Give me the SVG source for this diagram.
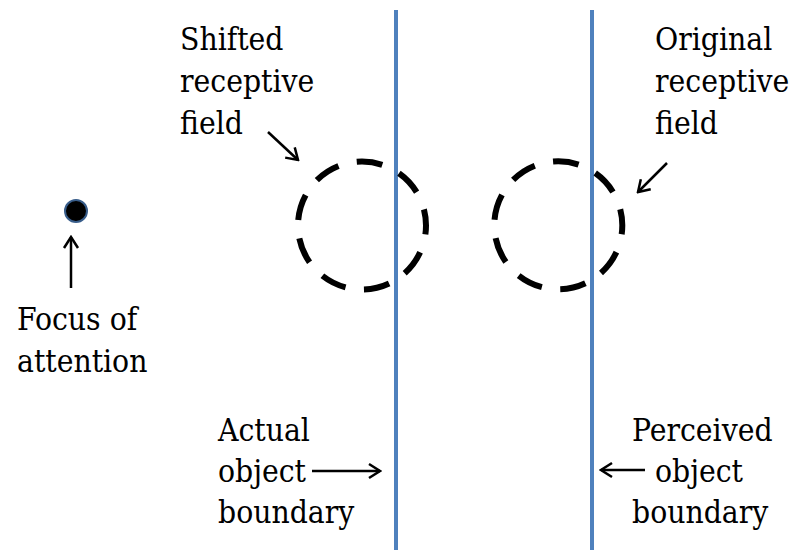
<svg xmlns="http://www.w3.org/2000/svg" width="801" height="550" viewBox="0 0 801 550">
<style>
.t{font-family:"DejaVu Serif Condensed","DejaVu Serif",serif;font-stretch:condensed;font-size:31.5px;fill:#000}
.b{stroke:#4f81bd;stroke-width:4;fill:none}
.rf{fill:none;stroke:#000;stroke-width:6;stroke-dasharray:26 18.68;stroke-dashoffset:17}
.ar{stroke:#000;stroke-width:2.5;fill:none;marker-end:url(#ah)}
</style>
<defs>
<marker id="ah" markerUnits="userSpaceOnUse" viewBox="-14 -9 16 18" markerWidth="16" markerHeight="18" refX="0" refY="0" orient="auto">
<path d="M-11,-7 L0,0 L-11,7" fill="none" stroke="#000" stroke-width="2.5"/>
</marker>
</defs>
<g id="actual-boundary"><line class="b" x1="396" y1="10" x2="396" y2="550"/></g>
<g id="perceived-boundary"><line class="b" x1="592" y1="10" x2="592" y2="550"/></g>
<g id="shifted-field"><circle class="rf" cx="362" cy="225.5" r="64"/></g>
<g id="original-field"><circle class="rf" cx="558.3" cy="225.3" r="64"/></g>
<g id="focus-dot"><circle cx="76" cy="211" r="11" fill="#000" stroke="#385d8a" stroke-width="2"/></g>
<g id="connectors">
<line class="ar" x1="71" y1="288" x2="71" y2="237"/>
<line class="ar" x1="268" y1="132" x2="298" y2="160"/>
<line class="ar" x1="667" y1="163" x2="638" y2="192"/>
<line class="ar" x1="312" y1="471" x2="380" y2="471"/>
<line class="ar" x1="645" y1="470" x2="601" y2="470"/>
</g>
<g id="label-focus"><text class="t" x="17" y="330">Focus of</text><text class="t" x="17" y="371.5">attention</text></g>
<g id="label-shifted"><text class="t" x="180" y="50">Shifted</text><text class="t" x="180" y="92">receptive</text><text class="t" x="180" y="134">field</text></g>
<g id="label-original"><text class="t" x="655" y="50">Original</text><text class="t" x="655" y="92">receptive</text><text class="t" x="655" y="134">field</text></g>
<g id="label-actual"><text class="t" x="218" y="440.5">Actual</text><text class="t" x="218" y="481.5">object</text><text class="t" x="218" y="522.5">boundary</text></g>
<g id="label-perceived"><text class="t" x="632" y="440.5">Perceived</text><text class="t" x="655" y="481.5">object</text><text class="t" x="632" y="522.5">boundary</text></g>
</svg>
